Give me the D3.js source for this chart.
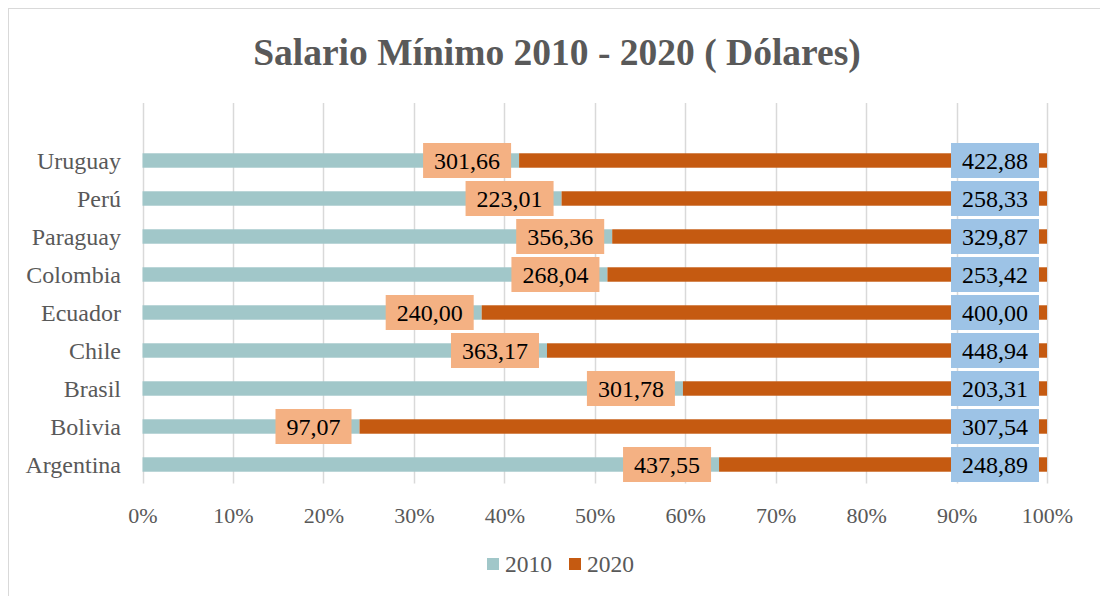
<!DOCTYPE html>
<html>
<head>
<meta charset="utf-8">
<script src="https://cdn.jsdelivr.net/npm/d3@7"></script>
<style>
  body { margin: 0; background: #fff; }
</style>
</head>
<body>
<script>
var countries = ["Uruguay", "Perú", "Paraguay", "Colombia", "Ecuador", "Chile", "Brasil", "Bolivia", "Argentina"];
var values2010 = [301.66, 223.01, 356.36, 268.04, 240.00, 363.17, 301.78, 97.07, 437.55];
var values2020 = [422.88, 258.33, 329.87, 253.42, 400.00, 448.94, 203.31, 307.54, 248.89];
var seriesNames = ["2010", "2020"];
var xTicks = [0, 0.1, 0.2, 0.3, 0.4, 0.5, 0.6, 0.7, 0.8, 0.9, 1];

var width = 1100;
var height = 596;
var serif = "'Liberation Serif'";
var colors = { "2010": "#A1C7C9", "2020": "#C55A11" };
var labelFill = { "2010": "#F4B183", "2020": "#9DC3E6" };

var svg = d3.select("body")
  .append("svg")
  .attr("width", width)
  .attr("height", height);

// chart border
svg.append("rect")
  .attr("x", 8.5).attr("y", 8.5)
  .attr("width", 1100).attr("height", 600)
  .attr("fill", "none")
  .attr("stroke", "#d9d9d9");

svg.append("text")
  .attr("x", 557)
  .attr("y", 65)
  .attr("text-anchor", "middle")
  .style("font-family", serif)
  .style("font-size", "37.5px")
  .style("font-weight", "bold")
  .attr("fill", "#595959")
  .text("Salario Mínimo 2010 - 2020 ( Dólares)");

var xScale = d3.scaleLinear().domain([0, 1]).range([142.5, 1047]);
var yScale = d3.scaleBand()
  .domain(countries)
  .range([141.5, 483.5])
  .paddingInner(0.62)
  .paddingOuter(0.31);

// gridlines
svg.selectAll("line.grid")
  .data(xTicks)
  .enter()
  .append("line")
  .attr("class", "grid")
  .attr("x1", function(d) { return Math.round(xScale(d)) + 0.5; })
  .attr("x2", function(d) { return Math.round(xScale(d)) + 0.5; })
  .attr("y1", 103)
  .attr("y2", 483.5)
  .attr("stroke", "#d9d9d9")
  .attr("stroke-width", 1.5);

// x axis tick labels
var xAxis = d3.axisBottom(xScale)
  .tickValues(xTicks)
  .tickSize(0)
  .tickPadding(0)
  .tickFormat(d3.format(".0%"));

var gx = svg.append("g")
  .attr("transform", "translate(0,523)")
  .call(xAxis);
gx.select(".domain").remove();
gx.attr("font-family", null).attr("font-size", null);
gx.selectAll("text")
  .attr("dy", 0)
  .style("font-family", serif)
  .style("font-size", "22px")
  .attr("fill", "#595959");

// y axis labels
var yAxis = d3.axisLeft(yScale).tickSize(0).tickPadding(0);
var gy = svg.append("g")
  .attr("transform", "translate(121,0)")
  .call(yAxis);
gy.select(".domain").remove();
gy.attr("font-family", null).attr("font-size", null);
gy.selectAll("text")
  .attr("dy", "0.35em")
  .style("font-family", serif)
  .style("font-size", "24px")
  .attr("fill", "#595959");

// stacked 100% data
var rows = countries.map(function(c, i) {
  var total = values2010[i] + values2020[i];
  return {
    country: c,
    parts: [
      { key: "2010", country: c, value: values2010[i], x0: 0, x1: values2010[i] / total },
      { key: "2020", country: c, value: values2020[i], x0: values2010[i] / total, x1: 1 }
    ]
  };
});

var rowG = svg.selectAll("g.row")
  .data(rows)
  .enter()
  .append("g")
  .attr("class", "row");

rowG.selectAll("rect.bar")
  .data(function(d) { return d.parts; })
  .enter()
  .append("rect")
  .attr("class", "bar")
  .attr("x", function(d) { return xScale(d.x0); })
  .attr("width", function(d) { return xScale(d.x1) - xScale(d.x0); })
  .attr("y", function(d) { return yScale(d.country); })
  .attr("height", yScale.bandwidth())
  .attr("fill", function(d) { return colors[d.key]; });

// data labels (inside end, with filled boxes)
var fmt = function(v) { return d3.format(".2f")(v).replace(".", ","); };
var labels = rowG.selectAll("g.lab")
  .data(function(d) { return d.parts; })
  .enter()
  .append("g")
  .attr("class", "lab");

labels.each(function(d) {
  var g = d3.select(this);
  var cy = yScale(d.country) + yScale.bandwidth() / 2;
  var right = xScale(d.x1) - 8;
  var t = g.append("text")
    .attr("x", right - 11)
    .attr("y", cy)
    .attr("dy", "0.35em")
    .attr("text-anchor", "end")
    .style("font-family", serif)
    .style("font-size", "24px")
    .attr("fill", "#000")
    .text(fmt(d.value));
  var w = t.node().getComputedTextLength();
  g.insert("rect", "text")
    .attr("x", right - w - 22)
    .attr("y", cy - 17.5)
    .attr("width", w + 22)
    .attr("height", 35)
    .attr("fill", labelFill[d.key]);
});

// legend
var legendX = [487, 569];
var legend = svg.selectAll("g.legend")
  .data(seriesNames)
  .enter()
  .append("g")
  .attr("class", "legend")
  .attr("transform", function(d, i) { return "translate(" + legendX[i] + ",558)"; });

legend.append("rect")
  .attr("width", 12)
  .attr("height", 12)
  .attr("fill", function(d) { return colors[d]; });

legend.append("text")
  .attr("x", 18)
  .attr("y", 6)
  .attr("dy", "0.35em")
  .style("font-family", serif)
  .style("font-size", "23.5px")
  .attr("fill", "#595959")
  .text(function(d) { return d; });
</script>
</body>
</html>
